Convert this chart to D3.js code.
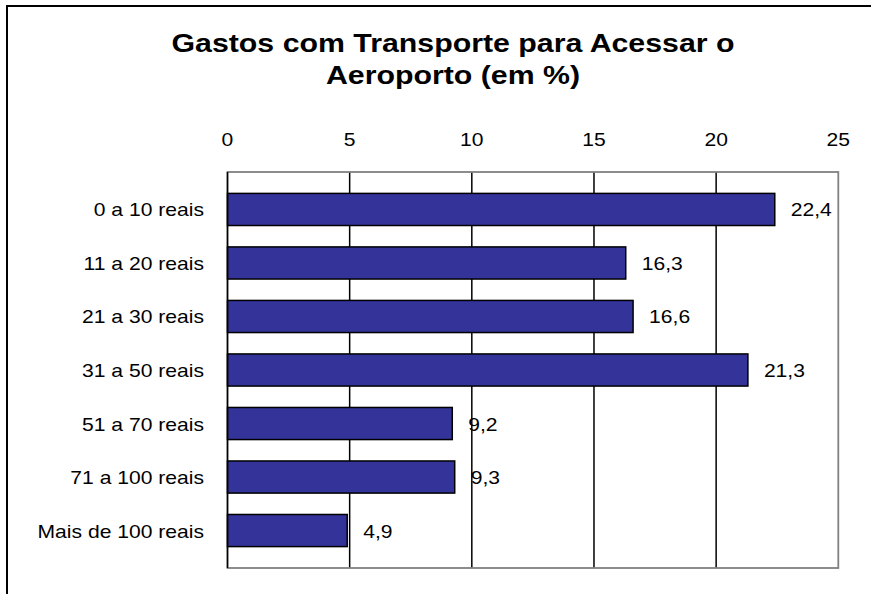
<!DOCTYPE html>
<html>
<head>
<meta charset="utf-8">
<script src="https://cdn.jsdelivr.net/npm/d3@7"></script>
<style>
  html, body { margin: 0; padding: 0; background: #fff; }
  svg { display: block; font-family: "Liberation Sans", Arial, sans-serif; }
</style>
</head>
<body>
<svg id="chart" width="871" height="594"></svg>
<script>
const categories = ["0 a 10 reais", "11 a 20 reais", "21 a 30 reais", "31 a 50 reais", "51 a 70 reais", "71 a 100 reais", "Mais de 100 reais"];
const values = [22.4, 16.3, 16.6, 21.3, 9.2, 9.3, 4.9];
const valueLabels = ["22,4", "16,3", "16,6", "21,3", "9,2", "9,3", "4,9"];
const tickValues = [0, 5, 10, 15, 20, 25];
const titleLines = ["Gastos com Transporte para Acessar o", "Aeroporto (em %)"];

const svg = d3.select("#chart");
const plot = { left: 227.5, right: 838.3, top: 172, bottom: 568 };

const x = d3.scaleLinear().domain([0, 25]).range([plot.left, plot.right]);
const y = d3.scaleBand().domain(categories).range([plot.top, plot.bottom]).padding(0.4);

function stretch(sel, f) {
  sel.each(function () {
    const w = this.getComputedTextLength();
    d3.select(this).attr("textLength", w * f).attr("lengthAdjust", "spacingAndGlyphs");
  });
}

// outer frame (top and left visible)
svg.append("rect").attr("x", 7).attr("y", 6).attr("width", 900).attr("height", 700)
  .attr("fill", "none").attr("stroke", "#000").attr("stroke-width", 2);

// title
const title = svg.append("g");
title.selectAll("text").data(titleLines).join("text")
  .attr("x", 453).attr("y", (d, i) => 51.5 + i * 32)
  .attr("text-anchor", "middle").attr("font-weight", "bold").attr("font-size", 25)
  .attr("fill", "#000").text(d => d);
stretch(title.selectAll("text").filter((d, i) => i === 0), 1);
(function () {
  const t0 = title.select("text").node();
  const f = 563 / t0.getComputedTextLength();
  stretch(title.selectAll("text"), f);
})();

// gridlines
svg.append("g").selectAll("line").data(tickValues.filter(v => v > 0 && v < 25)).join("line")
  .attr("x1", d => x(d)).attr("x2", d => x(d))
  .attr("y1", plot.top).attr("y2", plot.bottom)
  .attr("stroke", "#000").attr("stroke-width", 1.5);

// plot frame
svg.append("rect").attr("x", plot.left).attr("y", plot.top)
  .attr("width", plot.right - plot.left).attr("height", plot.bottom - plot.top)
  .attr("fill", "none").attr("stroke", "#808080").attr("stroke-width", 1.8);

// bars
svg.append("g").selectAll("rect").data(values).join("rect")
  .attr("x", x(0)).attr("y", (d, i) => y(categories[i]))
  .attr("width", d => x(d) - x(0)).attr("height", y.bandwidth())
  .attr("fill", "#333399").attr("stroke", "#000").attr("stroke-width", 1.5);

// category axis line
svg.append("line").attr("x1", plot.left).attr("x2", plot.left)
  .attr("y1", plot.top).attr("y2", plot.bottom)
  .attr("stroke", "#000").attr("stroke-width", 1.5);

const F = 1.14;

// top axis tick labels
const ticks = svg.append("g").selectAll("text").data(tickValues).join("text")
  .attr("x", d => x(d)).attr("y", 145.5).attr("text-anchor", "middle")
  .attr("font-size", 18.5).attr("fill", "#000").text(d => d);
stretch(ticks, F);

// category labels
const cats = svg.append("g").selectAll("text").data(categories).join("text")
  .attr("x", 204).attr("y", d => y(d) + y.bandwidth() / 2 + 7)
  .attr("text-anchor", "end").attr("font-size", 18.5).attr("fill", "#000").text(d => d);
stretch(cats, F);

// data labels
const lbls = svg.append("g").selectAll("text").data(values).join("text")
  .attr("x", d => x(d) + 16).attr("y", (d, i) => y(categories[i]) + y.bandwidth() / 2 + 7)
  .attr("font-size", 18.5).attr("fill", "#000").text((d, i) => valueLabels[i]);
stretch(lbls, F);
</script>
</body>
</html>
